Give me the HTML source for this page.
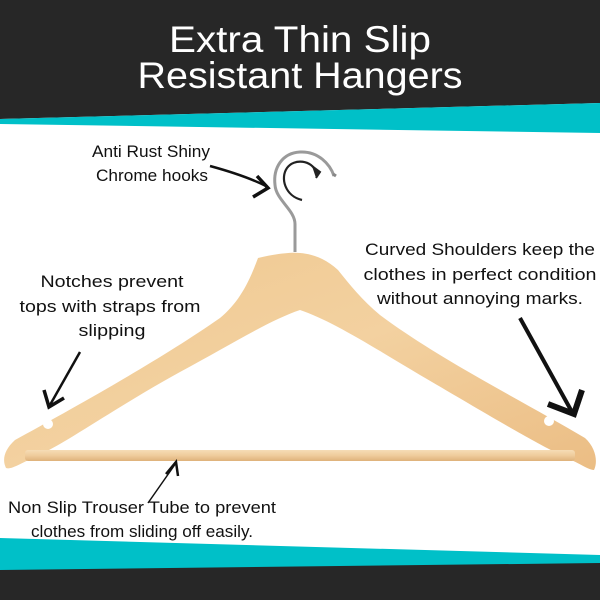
<!DOCTYPE html>
<html><head><meta charset="utf-8"><style>
html,body{margin:0;padding:0;background:#fff;}
svg{display:block;}
text{font-family:"Liberation Sans",sans-serif;}
</style></head><body>
<svg width="600" height="600" viewBox="0 0 600 600" xmlns="http://www.w3.org/2000/svg">
<defs>
<linearGradient id="wood" x1="0" y1="0" x2="1" y2="1">
<stop offset="0" stop-color="#efc890"/><stop offset="0.5" stop-color="#f3d1a0"/><stop offset="1" stop-color="#ebbd84"/>
</linearGradient>
<linearGradient id="bar" x1="0" y1="0" x2="0" y2="1">
<stop offset="0" stop-color="#f6dcb6"/><stop offset="0.5" stop-color="#efcc9c"/><stop offset="1" stop-color="#deb27a"/>
</linearGradient>
</defs>
<rect width="600" height="600" fill="#fff"/>
<polygon points="0,0 600,0 600,103 0,119" fill="#272727"/>
<polygon points="0,119 600,103 600,133 0,124" fill="#00c0c8"/>
<polygon points="0,538 600,555 600,600 0,600" fill="#00c0c8"/>
<polygon points="0,570 600,563 600,600 0,600" fill="#272727"/>
<text x="300" y="52" font-size="37" fill="#fff" text-anchor="middle" textLength="262" lengthAdjust="spacingAndGlyphs">Extra Thin Slip</text>
<text x="300" y="88" font-size="37" fill="#fff" text-anchor="middle" textLength="325" lengthAdjust="spacingAndGlyphs">Resistant Hangers</text>

<!-- hook -->
<path d="M295,252 L295,224 C295,210 276,200 275,185 C273,168 282,153 300,152 C318,151 330,164 334,176" fill="none" stroke="#9a9a9a" stroke-width="3"/>
<path d="M336,176 L333,174" stroke="#888" stroke-width="3"/>
<path d="M316,172 C312,160 294,158 287,168 C280,178 285,196 302,200" fill="none" stroke="#222" stroke-width="2.2"/>
<path d="M312,166 L320,172 L316,178" fill="#222" stroke="#222" stroke-width="2"/>

<!-- hanger -->
<path d="M258,258 C275,254 290,252 300,253 C312,254 325,258 338,270 C350,285 362,300 380,315 C440,360 530,405 585,438 C596,448 598,462 594,470 C588,470 580,463 560,455 L555,452 C530,440 480,410 420,375 C370,345 330,320 300,310 C270,320 230,345 180,372 C120,405 70,440 45,452 L40,455 C20,463 12,470 6,468 C2,460 4,450 15,440 C70,410 160,360 220,318 C238,303 248,285 258,258 Z" fill="url(#wood)"/>
<circle cx="48" cy="424" r="5" fill="#fff"/>
<circle cx="549" cy="421" r="5" fill="#fff"/>
<rect x="25" y="450" width="550" height="11" rx="3" fill="url(#bar)"/>

<!-- arrows -->
<path d="M210,166 C232,172 250,178 266,186" fill="none" stroke="#111" stroke-width="2.5"/>
<path d="M253,197 L268,188 L257,176" fill="none" stroke="#111" stroke-width="3.5"/>
<path d="M80,352 L50,405" stroke="#111" stroke-width="2.5"/>
<path d="M44,390 L49,407 L64,398" fill="none" stroke="#111" stroke-width="3.5"/>
<path d="M520,318 L572,412" stroke="#111" stroke-width="4"/>
<path d="M548,404 L574,414 L582,390" fill="none" stroke="#111" stroke-width="6"/>
<path d="M148,503 L176,463" stroke="#111" stroke-width="1.5"/>
<path d="M166,474 L176,462 L178,476" fill="none" stroke="#111" stroke-width="2.5"/>

<g font-size="17" fill="#111">
<text x="151" y="157" text-anchor="middle" textLength="118" lengthAdjust="spacingAndGlyphs">Anti Rust Shiny</text>
<text x="152" y="181" text-anchor="middle" textLength="112" lengthAdjust="spacingAndGlyphs">Chrome hooks</text>
<text x="112" y="287" text-anchor="middle" textLength="143" lengthAdjust="spacingAndGlyphs">Notches prevent</text>
<text x="110" y="312" text-anchor="middle" textLength="181" lengthAdjust="spacingAndGlyphs">tops with straps from</text>
<text x="112" y="336" text-anchor="middle" textLength="67" lengthAdjust="spacingAndGlyphs">slipping</text>
<text x="480" y="255" text-anchor="middle" textLength="230" lengthAdjust="spacingAndGlyphs">Curved Shoulders keep the</text>
<text x="480" y="280" text-anchor="middle" textLength="233" lengthAdjust="spacingAndGlyphs">clothes in perfect condition</text>
<text x="480" y="304" text-anchor="middle" textLength="206" lengthAdjust="spacingAndGlyphs">without annoying marks.</text>
<text x="142" y="513" text-anchor="middle" textLength="268" lengthAdjust="spacingAndGlyphs">Non Slip Trouser Tube to prevent</text>
<text x="142" y="537" text-anchor="middle" textLength="222" lengthAdjust="spacingAndGlyphs">clothes from sliding off easily.</text>
</g>
</svg>
</body></html>
